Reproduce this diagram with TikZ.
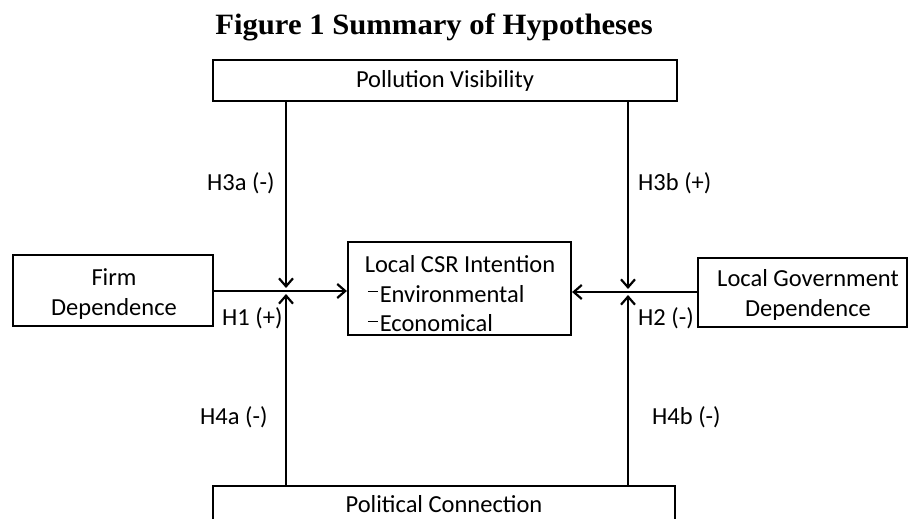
\documentclass[tikz,border=0pt]{standalone}
\usepackage{fontspec}
\setmainfont{Carlito}
\newfontfamily\titlefont[FakeStretch=1.04]{Liberation Serif}
\usetikzlibrary{arrows.meta}
\newcommand{\hdash}{\hspace*{3pt}\rule[10pt]{10pt}{1.3pt}\hspace{2pt}}
\begin{document}
\begin{tikzpicture}[x=1pt,y=-1pt,
  txt/.style={font=\fontsize{24.5}{29.5}\selectfont, align=center, inner sep=0pt},
  box/.style={draw, line width=2.2pt, inner sep=0pt, txt},
  conn/.style={line width=2.4pt},
  arr/.style={conn, -{Straight Barb[length=8pt,width=14pt,line width=2.2pt]}},
  lab/.style={font=\fontsize{24.5}{29.5}\selectfont, inner sep=0pt, anchor=west}]
\useasboundingbox (0,0) rectangle (910,519);
\clip (0,0) rectangle (910,519);
\node[font=\titlefont\bfseries\fontsize{29.5}{34}\selectfont, inner sep=0pt] (title) at (434,27) {Figure 1 Summary of Hypotheses};
\node[box, minimum width=464pt, minimum height=41pt] (pv) at (445,80.5) {Pollution Visibility};
\node[box, minimum width=200pt, minimum height=71pt] (firm) at (113,290.5) {};
\node[txt] (firmtext) at (114,294) {Firm\\Dependence};
\node[box, minimum width=223pt, minimum height=93pt] (csr) at (459.5,288.5) {};
\node[txt, align=left] (csrtext) at (460,294) {Local CSR Intention\\\hdash Environmental\\\hdash Economical};
\node[box, minimum width=209pt, minimum height=69pt] (lgd) at (802.5,292.5) {};
\node[txt] (lgdtext) at (808,295) {Local Government\\Dependence};
\node[box, minimum width=462pt, minimum height=60pt, anchor=north] (pc) at (444,485) {};
\node[txt] (pctext) at (444,504) {Political Connection};
\coordinate (ja) at (286,288);
\coordinate (jb) at (286,294);
\coordinate (ka) at (628,289);
\coordinate (kb) at (628,295);
\draw[arr] (firm.east |- 0,291) -- (csr.west |- 0,291);
\draw[arr] (lgd.west |- 0,292) -- (csr.east |- 0,292);
\draw[arr] (pv.south -| ja) -- (ja);
\draw[arr] (pc.north -| jb) -- (jb);
\draw[arr] (pv.south -| ka) -- (ka);
\draw[arr] (pc.north -| kb) -- (kb);
\node[lab] (h3a) at (207,183) {H3a (-)};
\node[lab] (h3b) at (638,183) {H3b (+)};
\node[lab] (h1) at (222,318) {H1 (+)};
\node[lab] (h2) at (638,318) {H2 (-)};
\node[lab] (h4a) at (200,417) {H4a (-)};
\node[lab] (h4b) at (652,417) {H4b (-)};
\end{tikzpicture}
\end{document}
